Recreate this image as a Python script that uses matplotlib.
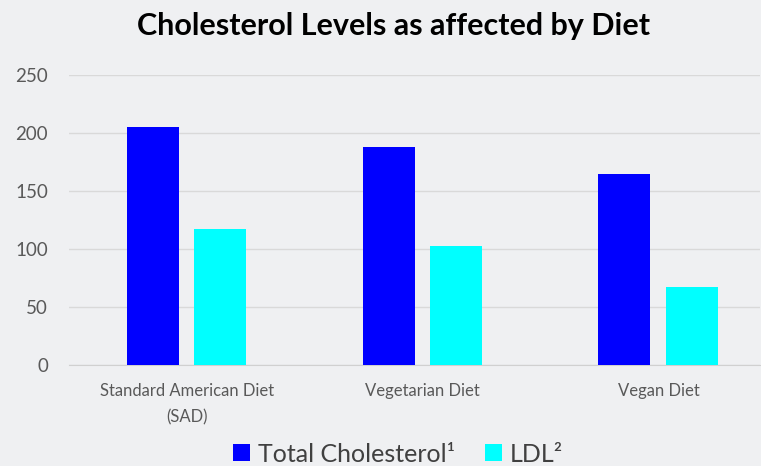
import matplotlib.pyplot as plt
import numpy as np

categories = ["Standard American Diet\n(SAD)", "Vegetarian Diet", "Vegan Diet"]
total_chol = [205, 188, 165]
ldl = [117, 103, 67]
series_names = ["Total Cholesterol\u00b9", "LDL\u00b2"]
yticks = [0, 50, 100, 150, 200, 250]

bg = "#eff0f2"
plt.rcParams["font.family"] = ["Lato", "DejaVu Sans"]

fig = plt.figure(figsize=(7.61, 4.66), dpi=100, facecolor=bg)
ax = fig.add_axes([69 / 761, 101 / 466, 691 / 761, 290 / 466], facecolor=bg)

x = np.arange(len(categories))
w = 0.22
ax.bar(x - 0.145, total_chol, w, color="#0000ff", label=series_names[0], zorder=3)
ax.bar(x + 0.14, ldl, w, color="#00ffff", label=series_names[1], zorder=3)

ax.set_xlim(-0.5, 2.43)
ax.set_ylim(0, 250)
ax.set_yticks(yticks)
ax.set_xticks(x)
ax.set_xticklabels(categories, fontsize=12, color="#595959", linespacing=1.8)
ax.tick_params(axis="y", labelsize=13.5, labelcolor="#595959", length=0, pad=15)
ax.tick_params(axis="x", length=0, pad=13)
ax.grid(axis="y", color="#d9d9d9", linewidth=1, zorder=0)
for s in ["top", "right", "left"]:
    ax.spines[s].set_visible(False)
ax.spines["bottom"].set_color("#d0d0d0")

fig.text(394 / 761, 1 - 35 / 466, "Cholesterol Levels as affected by Diet", ha="center",
         va="baseline", fontsize=22, fontweight="bold", color="black")

fig.legend(loc="center", bbox_to_anchor=(398 / 761, 1 - 454 / 466), ncol=2, frameon=False,
           fontsize=18, handlelength=0.68, handleheight=0.64, handletextpad=0.32,
           columnspacing=1.2, labelcolor="#404040", borderpad=0, borderaxespad=0)

fig.savefig("out.png", dpi=100, facecolor=bg)
